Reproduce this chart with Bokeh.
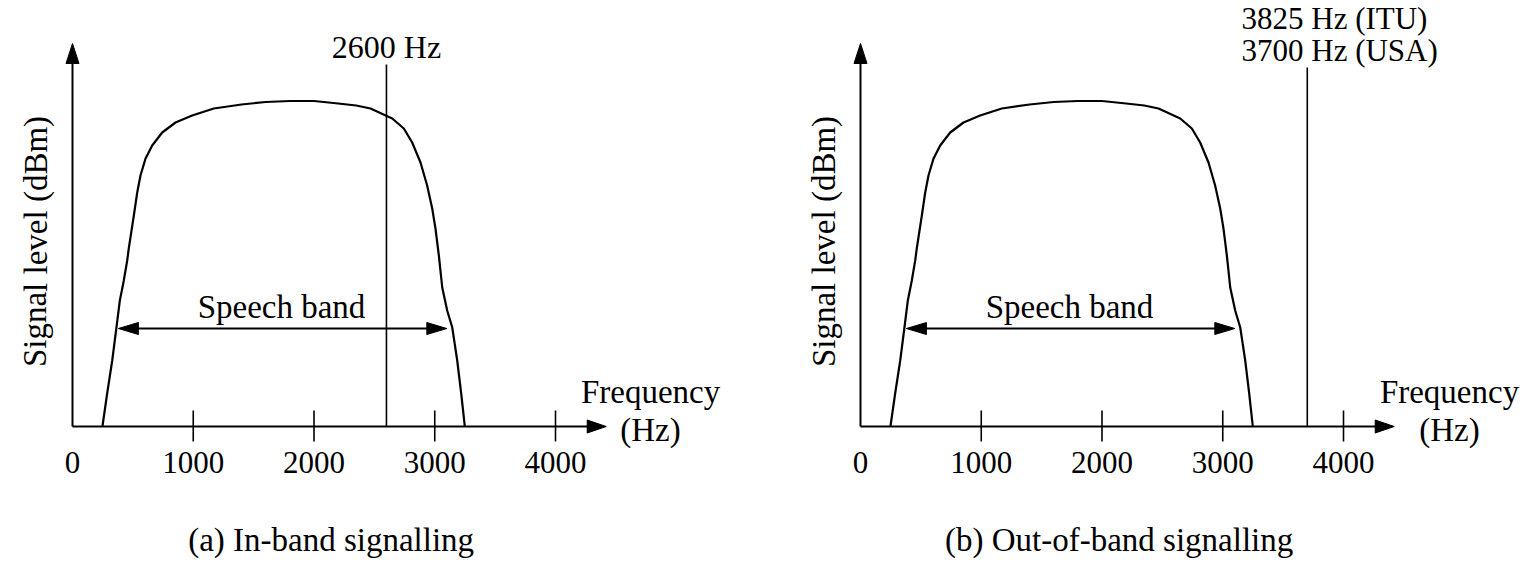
from bokeh.plotting import figure
from bokeh.layouts import row
from bokeh.models import Range1d
from bokeh.core.properties import value
from bokeh.embed import file_html
from bokeh.resources import INLINE

# Typical speech-channel response: frequency (Hz) against relative signal level
freq = [248, 287, 329, 364, 392, 425, 453, 466, 508, 536, 563, 605, 660,
        743, 853, 991, 1170, 1400, 1600, 1800, 2000, 2200, 2350, 2468,
        2648, 2744, 2813, 2882, 2937, 2979, 3006, 3034, 3062, 3103, 3145,
        3186, 3219, 3249]
level = [0, 33, 66, 99, 126, 146, 166, 178, 211, 234, 251, 268, 281,
         294, 304, 311, 318, 322, 324.5, 325.5, 325.5, 323, 321, 318,
         308, 298, 284, 264, 241, 218, 198, 171, 139, 116, 99,
         66, 33, 0]

tick_freqs = [0, 1000, 2000, 3000, 4000]
tick_labels = ["0", "1000", "2000", "3000", "4000"]

speech_band = [380, 3100]      # Hz, ends of the speech band arrow
speech_band_level = 98

inband_tone = 2600             # Hz
outband_tone = 3700            # Hz
inband_labels = ["2600 Hz"]
outband_labels = ["3825 Hz (ITU)", "3700 Hz (USA)"]
captions = ["(a) In-band signalling", "(b) Out-of-band signalling"]

# screen geometry
PX_PER_HZ = 120.75 / 1000.0
ORIGIN_PX = 72
HEIGHT = 587
AXIS_PX = 426
FONT = value("Liberation Serif")
X_END = 4420                   # tip of frequency axis
Y_END = 383                    # tip of level axis


def hz(px):
    return px / PX_PER_HZ


def text(p, x, y, s, size="33px", align="center", angle=0.0, baseline="alphabetic"):
    p.text(x=x, y=y, text=s, text_font=FONT, text_font_size=size,
           text_align=align, text_baseline=baseline, text_color="black",
           angle=angle)


def head(p, tip_x, tip_y, direction, length_px=21, half_px=6.5):
    """Filled arrow head; direction is one of 'left', 'right', 'up'."""
    if direction in ("left", "right"):
        s = 1 if direction == "right" else -1
        bx = tip_x - s * hz(length_px)
        xs = [tip_x, bx, bx]
        ys = [tip_y, tip_y + half_px, tip_y - half_px]
    else:
        by = tip_y - length_px
        xs = [tip_x, tip_x - hz(half_px), tip_x + hz(half_px)]
        ys = [tip_y, by, by]
    p.patch(xs, ys, fill_color="black", line_color="black", line_width=1)


def panel(width, tone, tone_top, tone_labels, label_ys, label_size,
          tone_label_x, tone_align, freq_label_x, caption):
    p = figure(width=width, height=HEIGHT, output_backend="svg",
               toolbar_location=None, x_axis_type=None, y_axis_type=None,
               x_range=Range1d(hz(-ORIGIN_PX), hz(width - ORIGIN_PX)),
               y_range=Range1d(-(HEIGHT - AXIS_PX), AXIS_PX),
               min_border=0, outline_line_color=None,
               background_fill_color="white", border_fill_color="white")
    p.xgrid.visible = False
    p.ygrid.visible = False

    # axes with arrow heads
    p.segment(x0=[0, 0], y0=[0, 0], x1=[X_END - hz(10), 0], y1=[0, Y_END - 10],
              line_color="black", line_width=2)
    head(p, X_END, 0, "right", length_px=19, half_px=6.5)
    head(p, 0, Y_END, "up", length_px=20, half_px=6.5)

    # tick marks and labels
    ticks = tick_freqs[1:]
    p.segment(x0=ticks, y0=[-15] * len(ticks), x1=ticks, y1=[16] * len(ticks),
              line_color="black", line_width=1.6)
    text(p, tick_freqs, [-36] * len(tick_freqs), tick_labels, size="31px")

    # channel response
    p.line(freq, level, line_color="black", line_width=2.2,
           line_join="round")

    # speech band arrow
    p.segment(x0=[speech_band[0] + hz(15)], y0=[speech_band_level],
              x1=[speech_band[1] - hz(15)], y1=[speech_band_level],
              line_color="black", line_width=2)
    head(p, speech_band[0], speech_band_level, "left", length_px=20, half_px=6)
    head(p, speech_band[1], speech_band_level, "right", length_px=20, half_px=6)
    text(p, [1731], [120], ["Speech band"])

    # signalling tone and its label(s)
    p.segment(x0=[tone], y0=[0], x1=[tone], y1=[tone_top],
              line_color="black", line_width=1.6)
    text(p, [tone_label_x] * len(tone_labels), label_ys, tone_labels,
         size=label_size, align=tone_align)

    # axis titles
    text(p, [freq_label_x], [35], ["Frequency"])
    text(p, [freq_label_x], [-3], ["(Hz)"])
    text(p, [hz(-37)], [185], ["Signal level (dBm)"], angle=1.5707963,
         baseline="middle")

    # caption
    text(p, [2142], [-113], [caption])
    return p


left = panel(788, inband_tone, 362, inband_labels, [380], "32px",
             inband_tone, "center", 4787, captions[0])
right = panel(745, outband_tone, 359, outband_labels, [408, 376], "31px",
              hz(381), "left", 4878, captions[1])

layout = row(left, right)
open("out.html", "w").write(file_html(layout, INLINE))
